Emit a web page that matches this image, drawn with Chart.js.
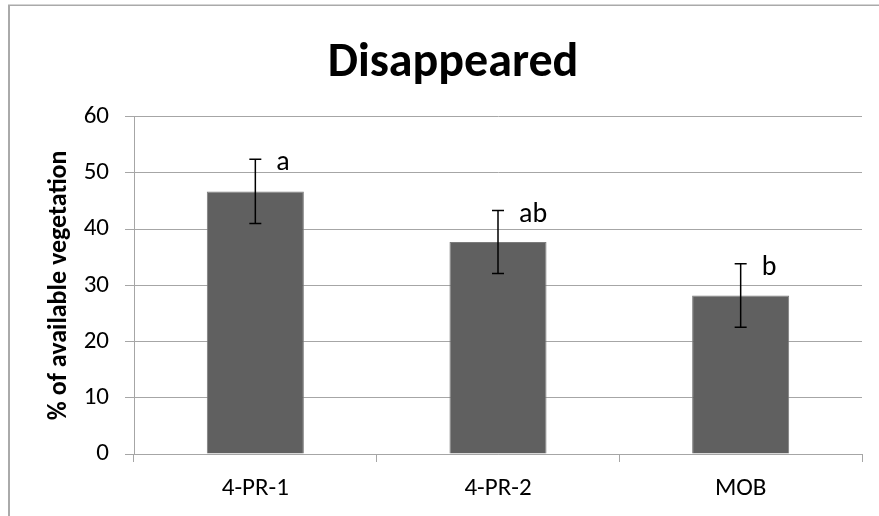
<!DOCTYPE html>
<html>
<head>
<meta charset="utf-8">
<script src="https://cdn.jsdelivr.net/npm/chart.js@4/dist/chart.umd.min.js"></script>
<style>
  html, body { margin: 0; padding: 0; background: #fff; }
  #c { display: block; }
</style>
</head>
<body>
<canvas id="c" width="879" height="516"></canvas>
<script>
const categories = ['4-PR-1', '4-PR-2', 'MOB'];
const values = [46.7, 37.7, 28.2];
const errors = [5.7, 5.6, 5.65];
const letters = ['a', 'ab', 'b'];
const yMin = 0, yMax = 60, yStep = 10;
const titleText = 'Disappeared';
const yTitle = '% of available vegetation';

const FONT = 'Carlito, Lato, sans-serif';
const GRID = '#a6a6a6';

const framePlugin = {
  id: 'frame',
  beforeDraw(chart) {
    const ctx = chart.ctx;
    ctx.save();
    ctx.fillStyle = '#fff';
    ctx.fillRect(0, 0, chart.width, chart.height);
    ctx.strokeStyle = '#aaaaaa';
    ctx.lineWidth = 2;
    ctx.beginPath();
    ctx.moveTo(9, 516);
    ctx.lineTo(9, 5);
    ctx.stroke();
    ctx.lineWidth = 1.5;
    ctx.beginPath();
    ctx.moveTo(8, 5.25);
    ctx.lineTo(879, 5.25);
    ctx.stroke();
    ctx.restore();
  }
};

const errorPlugin = {
  id: 'errbars',
  afterDatasetsDraw(chart) {
    const ctx = chart.ctx;
    const meta = chart.getDatasetMeta(0);
    const ys = chart.scales.y;
    ctx.save();
    meta.data.forEach((bar, i) => {
      const x = bar.x;
      const top = ys.getPixelForValue(values[i] + errors[i]);
      const bot = ys.getPixelForValue(values[i] - errors[i]);
      ctx.strokeStyle = '#000';
      ctx.lineWidth = 1.5;
      ctx.beginPath();
      ctx.moveTo(x, top); ctx.lineTo(x, bot);
      ctx.moveTo(x - 6, top); ctx.lineTo(x + 6, top);
      ctx.moveTo(x - 6, bot); ctx.lineTo(x + 6, bot);
      ctx.stroke();
      ctx.fillStyle = '#000';
      ctx.font = '28px ' + FONT;
      ctx.textAlign = 'left';
      ctx.textBaseline = 'middle';
      ctx.fillText(letters[i], x + 21, top + 4);
    });
    ctx.restore();
  }
};

new Chart(document.getElementById('c'), {
  type: 'bar',
  data: {
    labels: categories,
    datasets: [{
      data: values,
      backgroundColor: '#606060',
      borderColor: '#7c7c7c',
      borderWidth: 1,
      barPercentage: 0.4,
      categoryPercentage: 1.0
    }]
  },
  options: {
    responsive: false,
    animation: false,
    devicePixelRatio: 1,
    layout: { padding: { left: 44, right: 17, top: 13, bottom: 0 } },
    plugins: {
      legend: { display: false },
      tooltip: { enabled: false },
      title: {
        display: true,
        text: titleText,
        color: '#000',
        font: { family: FONT, size: 48, weight: 'bold' },
        padding: { top: 22, bottom: 24 }
      }
    },
    scales: {
      x: {
        grid: { display: true, drawOnChartArea: false, drawTicks: true, tickLength: 8, color: GRID, offset: true },
        border: { color: GRID, width: 1 },
        ticks: { color: '#000', font: { family: FONT, size: 25 }, padding: 12 },
        afterFit(s) { s.height = 62; }
      },
      y: {
        min: yMin, max: yMax,
        grid: { color: GRID, tickLength: 9, drawTicks: true },
        border: { color: GRID, width: 1 },
        ticks: { stepSize: yStep, color: '#000', font: { family: FONT, size: 25 }, padding: 16 },
        title: {
          display: true, text: yTitle, color: '#000',
          font: { family: FONT, size: 26, weight: 'bold' },
          padding: { top: 0, bottom: 0 }
        },
        afterFit(s) { s.width = 90; }
      }
    }
  },
  plugins: [framePlugin, errorPlugin]
});
</script>
</body>
</html>
